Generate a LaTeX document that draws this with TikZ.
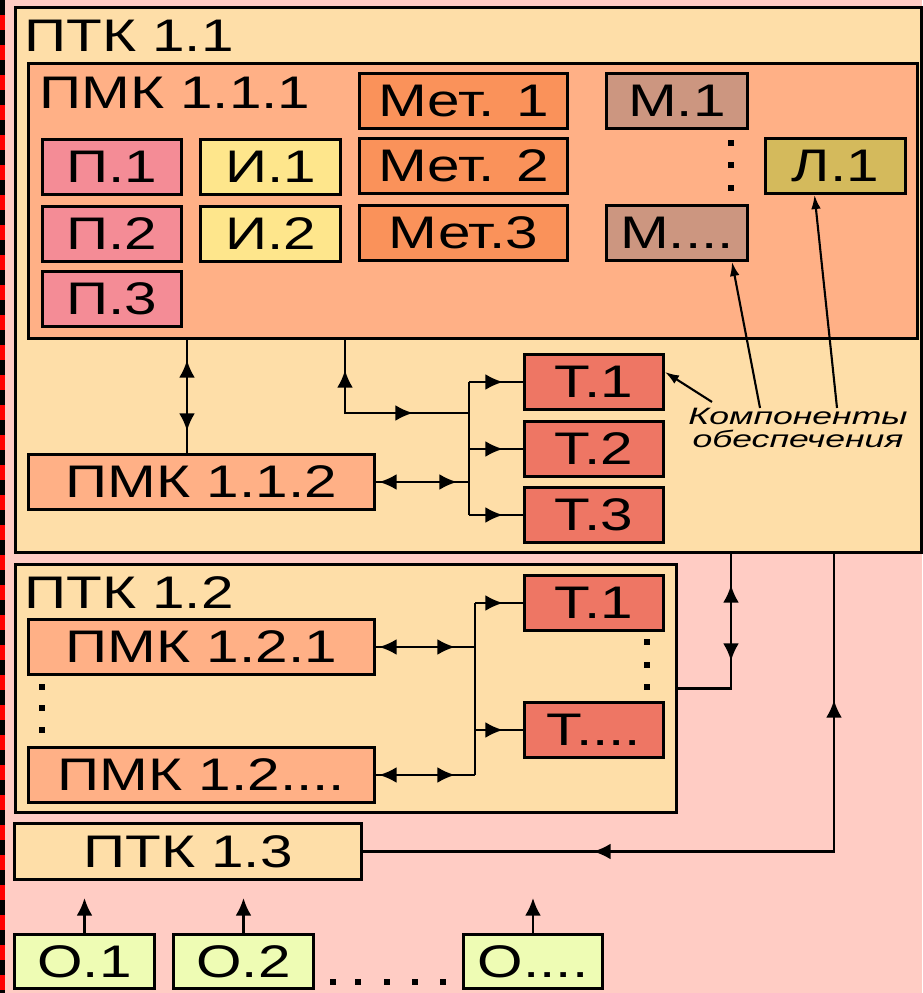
\documentclass[tikz,border=0pt]{standalone}
\usepackage{fontspec}
\newfontfamily\boxfont[FakeStretch=1.28]{Liberation Sans}
\newfontfamily\notefont[FakeStretch=1.5]{Liberation Sans}
\usetikzlibrary{arrows.meta, positioning, decorations.markings}
\definecolor{bgpink}{HTML}{FFCCC4}
\definecolor{peach}{HTML}{FEDEA8}
\definecolor{salmon}{HTML}{FFB086}
\definecolor{pfill}{HTML}{F48C96}
\definecolor{ifill}{HTML}{FEE68C}
\definecolor{metfill}{HTML}{FA925A}
\definecolor{mfill}{HTML}{CC9680}
\definecolor{lfill}{HTML}{D4BA5C}
\definecolor{tfill}{HTML}{EE7664}
\definecolor{ofill}{HTML}{EEFCB4}

\begin{document}
\begin{tikzpicture}[y=-1cm,
  frame/.style={rectangle, draw=black, line width=1.7pt, anchor=north west, inner sep=0pt},
  box/.style={frame, minimum height=1.1cm, font=\boxfont\fontsize{26}{30}\selectfont},
  title/.style={anchor=base west, inner sep=0pt, font=\boxfont\fontsize{26}{30}\selectfont},
  note/.style={inner sep=0pt, align=center, font=\notefont\itshape\fontsize{13.5}{13}\selectfont},
  conn/.style={line width=1.4pt},
  fwdtip/.style={postaction={decorate, decoration={markings,
      mark=at position #1 with {\arrow{Latex[length=10pt, width=9pt]}}}}},
  backtip/.style={postaction={decorate, decoration={markings,
      mark=at position #1 with {\arrowreversed{Latex[length=10pt, width=9pt]}}}}},
  pointer/.style={line width=1.2pt, -{Latex[length=8pt, width=5.5pt]}}
]
  \useasboundingbox (0,0) rectangle (18.44,19.86);
  \fill[bgpink] (0,0) rectangle (18.44,19.86);

  % left margin line
  \draw[red, line width=3pt] (0.05,0) -- (0.05,19.86);
  \draw[black, line width=3pt, dash pattern=on 0.3cm off 0.3cm] (0.05,0) -- (0.05,19.86);

  % PTK 1.1
  \node[frame, fill=peach, minimum width=18.12cm, minimum height=10.9cm] (ptk11) at (0.28,0.12) {};
  \node[title] (ptk11name) at (0.48,1.03) {ПТК 1.1};
  \node[frame, fill=salmon, minimum width=17.78cm, minimum height=5.5cm] (pmk111) at (0.54,1.24) {};
  \node[title] (pmk111name) at (0.78,2.16) {ПМК 1.1.1};

  \node[box, fill=pfill, minimum width=2.78cm] (p1) at (0.82,2.76) {П.1};
  \node[box, fill=pfill, minimum width=2.78cm] (p2) at (0.82,4.10) {П.2};
  \node[box, fill=pfill, minimum width=2.78cm] (p3) at (0.82,5.40) {П.3};
  \node[box, fill=ifill, minimum width=2.80cm] (i1) at (3.98,2.76) {И.1};
  \node[box, fill=ifill, minimum width=2.80cm] (i2) at (3.98,4.10) {И.2};
  \node[box, fill=metfill, minimum width=4.16cm] (met1) at (7.16,1.44) {Мет. 1};
  \node[box, fill=metfill, minimum width=4.16cm] (met2) at (7.16,2.74) {Мет. 2};
  \node[box, fill=metfill, minimum width=4.16cm] (met3) at (7.16,4.08) {Мет.3};
  \node[box, fill=mfill, minimum width=2.82cm] (m1) at (12.10,1.44) {М.1};
  \node[box, fill=mfill, minimum width=2.82cm] (mdots) at (12.10,4.08) {М....};
  \node[box, fill=lfill, minimum width=2.80cm] (l1) at (15.28,2.74) {Л.1};
  \foreach \y in {2.86,3.30,3.76} \fill (14.555,\y-0.065) rectangle ++(0.13,0.13);

  \node[box, fill=tfill, minimum width=2.78cm] (t1) at (10.46,7.06) {Т.1};
  \node[box, fill=tfill, minimum width=2.78cm] (t2) at (10.46,8.40) {Т.2};
  \node[box, fill=tfill, minimum width=2.78cm] (t3) at (10.46,9.72) {Т.3};
  \node[box, fill=salmon, minimum width=6.92cm] (pmk112) at (0.54,9.06) {ПМК 1.1.2};

  \node[note] (comp) at (15.96,8.56) {Компоненты\\обеспечения};

  % PTK 1.2
  \node[frame, fill=peach, minimum width=13.22cm, minimum height=4.96cm] (ptk12) at (0.28,11.26) {};
  \node[title] (ptk12name) at (0.48,12.16) {ПТК 1.2};
  \node[box, fill=salmon, minimum width=6.92cm] (pmk121) at (0.54,12.36) {ПМК 1.2.1};
  \node[box, fill=salmon, minimum width=6.92cm] (pmk12x) at (0.54,14.92) {ПМК 1.2....};
  \node[box, fill=tfill, minimum width=2.78cm] (t1b) at (10.46,11.48) {Т.1};
  \node[box, fill=tfill, minimum width=2.78cm] (tdots) at (10.46,14.02) {Т....};
  \foreach \y in {13.74,14.16,14.60} \fill (0.775,\y-0.065) rectangle ++(0.13,0.13);
  \foreach \y in {12.84,13.30,13.74} \fill (12.875,\y-0.065) rectangle ++(0.13,0.13);

  % PTK 1.3 and sources
  \node[box, fill=peach, minimum width=6.94cm, minimum height=1.12cm] (ptk13) at (0.26,16.44) {ПТК 1.3};
  \node[box, fill=ofill, minimum width=2.80cm, minimum height=1.08cm] (o1) at (0.26,18.66) {О.1};
  \node[box, fill=ofill, minimum width=2.80cm, minimum height=1.08cm] (o2) at (3.44,18.66) {О.2};
  \node[box, fill=ofill, minimum width=2.78cm, minimum height=1.08cm] (odots) at (9.24,18.66) {О....};
  \foreach \x in {6.66,7.16,7.74,8.30,8.86} \fill (\x-0.065,19.575) rectangle ++(0.13,0.13);

  % bus points
  \coordinate (ax111) at (3.74,0);
  \coordinate (tap111) at (6.90,8.26);
  \coordinate (bus11) at (9.38,0);
  \coordinate (bus12) at (9.50,0);
  \coordinate (link12) at (14.62,0);
  \coordinate (link13) at (16.68,0);

  % links inside PTK 1.1
  \draw[conn, backtip=0.4cm, fwdtip=1.82cm] (ax111 |- pmk111.south) -- (ax111 |- pmk112.north);
  \draw[conn, backtip=0.6cm, fwdtip=2.82cm] (tap111 |- pmk111.south) -- (tap111) -- (tap111 -| bus11);
  \draw[conn] (t1.west -| bus11) -- (t3.west -| bus11);
  \foreach \t in {t1,t2,t3}
    \draw[conn, fwdtip=-0.4cm] (\t.west -| bus11) -- (\t.west);
  \draw[conn, backtip=0.06cm, fwdtip=-0.24cm] (pmk112.east) -- (pmk112.east -| bus11);

  % links inside PTK 1.2
  \draw[conn] (t1b.west -| bus12) -- (pmk12x.east -| bus12);
  \foreach \t in {t1b,tdots}
    \draw[conn, fwdtip=-0.4cm] (\t.west -| bus12) -- (\t.west);
  \foreach \p in {pmk121,pmk12x}
    \draw[conn, backtip=0.06cm, fwdtip=-0.4cm] (\p.east) -- (\p.east -| bus12);

  % links between complexes
  \draw[conn, fwdtip=-0.62cm, backtip=-2.14cm] (ptk12.east) -- (ptk12.east -| link12) -- (link12 |- ptk11.south);
  \draw[conn, backtip=2.92cm, fwdtip=-4.6cm] (link13 |- ptk11.south) -- (link13 |- ptk13.east) -- (ptk13.east);
  \foreach \o in {o1,o2,odots}
    \draw[conn, -{Latex[length=10pt, width=9pt]}] (\o.north) -- ++(0,-0.7);

  % pointers from the note
  \draw[pointer] ([xshift=-1.72cm, yshift=0.12cm]comp.north) -- ([yshift=0.2cm]t1.east);
  \draw[pointer] ([xshift=-0.76cm]comp.north) -- ([xshift=1.1cm]mdots.south);
  \draw[pointer] ([xshift=0.78cm]comp.north) -- ([xshift=-0.42cm]l1.south);
\end{tikzpicture}
\end{document}
